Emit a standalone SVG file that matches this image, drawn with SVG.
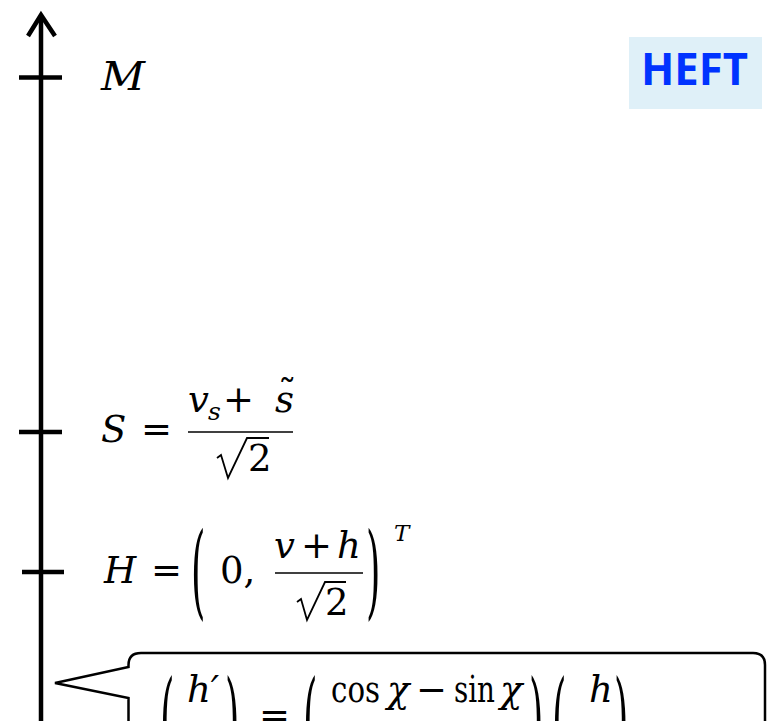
<svg xmlns="http://www.w3.org/2000/svg" width="769" height="721" viewBox="0 0 769 721">
<style>
.m{font-family:"DejaVu Serif",serif;font-size:37px;fill:#000}
.i{font-style:italic}
.ax{stroke:#000;stroke-width:4.5;fill:none}
.bar{stroke:#000;stroke-width:1.6;fill:none}
.rad{stroke:#000;stroke-width:1.8;fill:none;stroke-linejoin:miter}
</style>
<rect width="769" height="721" fill="#fff"/>
<g id="connectors">
<line class="ax" x1="41" y1="16" x2="41" y2="721"/>
<polyline class="ax" points="28,36 41,15 55,36"/>
</g>
<g id="tick-M">
<line class="ax" x1="19" y1="77.5" x2="62" y2="77.5"/>
<text class="m i" x="101" y="90" style="font-size:40px" textLength="44" lengthAdjust="spacingAndGlyphs">M</text>
</g>
<g id="tick-S">
<line class="ax" x1="19" y1="432" x2="62" y2="432"/>
<text class="m i" x="101" y="442">S</text>
<text class="m" x="141" y="442">=</text>
<text class="m i" x="188" y="412">v</text>
<text class="m i" x="208" y="420" style="font-size:25px">s</text>
<text class="m" x="223" y="412">+</text>
<text class="m i" x="275" y="412">s</text>
<text class="m" x="278" y="406">˜</text>
<line class="bar" x1="188" y1="432" x2="293" y2="432"/>
<path class="rad" d="M217,458 L221,455 L228,478 L247,438 H269"/>
<text class="m" x="248" y="471">2</text>
</g>
<g id="tick-H">
<line class="ax" x1="22" y1="572" x2="64" y2="572"/>
<text class="m i" x="104" y="583">H</text>
<text class="m" x="151" y="583">=</text>
<text class="m" transform="translate(191,606) scale(1,2.8)">(</text>
<text class="m" x="220" y="583">0,</text>
<text class="m i" x="274" y="558">v</text>
<text class="m" x="301" y="558">+</text>
<text class="m i" x="337" y="558">h</text>
<line class="bar" x1="275" y1="573" x2="363" y2="573"/>
<path class="rad" d="M297,602 L301,599 L307,620 L325,582 H346"/>
<text class="m" x="325" y="615">2</text>
<text class="m" transform="translate(366,606) scale(1,2.8)">)</text>
<text class="m i" x="394" y="541" style="font-size:23px">T</text>
</g>
<g id="heft">
<rect x="629" y="37" width="133" height="72" fill="#dff0f8"/>
<text x="641" y="85" style="font-family:'Open Sans',sans-serif;font-weight:bold;font-size:45px;fill:#0033ff" textLength="107" lengthAdjust="spacingAndGlyphs">HEFT</text>
</g>
<g id="callout">
<path d="M128.5,730 V698 L55,683 L128.5,667 V665 Q128.5,653 141,653 H753 Q765,653 765,665 V730" fill="#fff" stroke="#000" stroke-width="2.5" stroke-linejoin="miter"/>
<text class="m" transform="translate(160,759) scale(1,3)">(</text>
<text class="m i" x="187" y="702">h′</text>
<text class="m" transform="translate(225,759) scale(1,3)">)</text>
<text class="m" x="259" y="728">=</text>
<text class="m" transform="translate(303,759) scale(1,3)">(</text>
<text class="m" x="331" y="702" textLength="49" lengthAdjust="spacingAndGlyphs">cos</text>
<text class="m i" x="387" y="702">χ</text>
<text class="m" x="416" y="702">−</text>
<text class="m" x="454" y="702" textLength="41" lengthAdjust="spacingAndGlyphs">sin</text>
<text class="m i" x="500" y="702">χ</text>
<text class="m" transform="translate(529,759) scale(1,3)">)</text>
<text class="m" transform="translate(552,759) scale(1,3)">(</text>
<text class="m i" x="589" y="702">h</text>
<text class="m" transform="translate(614,759) scale(1,3)">)</text>
</g>
</svg>
